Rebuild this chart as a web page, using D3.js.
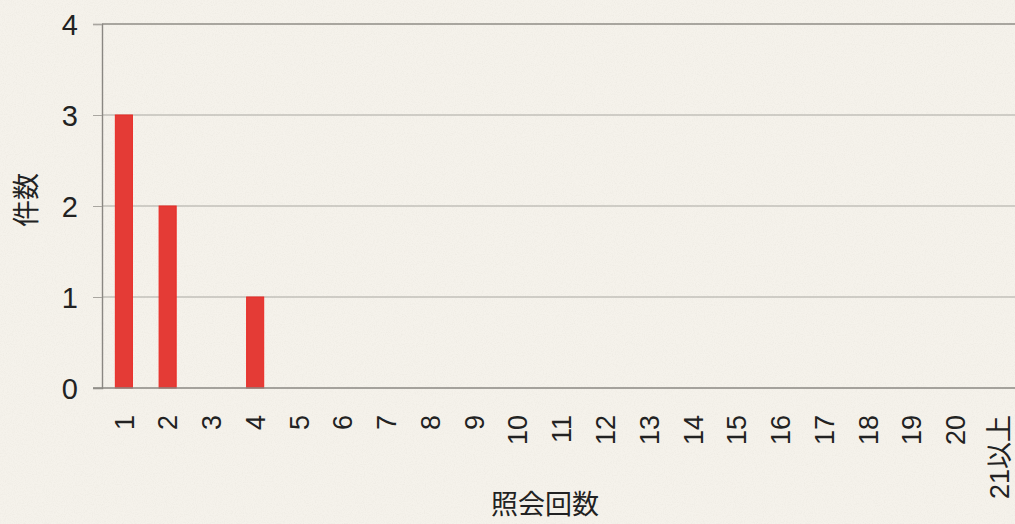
<!DOCTYPE html>
<html>
<head>
<meta charset="utf-8">
<script src="https://cdn.jsdelivr.net/npm/d3@7"></script>
<style>
  html, body { margin: 0; padding: 0; background: #f5f2eb; }
  svg { display: block; }
</style>
</head>
<body>
<svg id="chart" width="1015" height="524"></svg>
<script>
// Number of inquiries per case (照会回数) and how many cases (件数)
const categories = ["1","2","3","4","5","6","7","8","9","10","11","12","13","14","15","16","17","18","19","20","21以上"];
const counts = [3, 2, 0, 1, 0, 0, 0, 0, 0, 0, 0, 0, 0, 0, 0, 0, 0, 0, 0, 0, 0];
const yTicks = [0, 1, 2, 3, 4];

const W = 1015, H = 524;
const margin = { left: 102, top: 24, right: -6, bottom: 136 };

const svg = d3.select("#chart");

// paper-like grain
const defs = svg.append("defs");
const f = defs.append("filter").attr("id", "grain").attr("x", 0).attr("y", 0).attr("width", "100%").attr("height", "100%");
f.append("feTurbulence").attr("type", "fractalNoise").attr("baseFrequency", 0.9).attr("numOctaves", 2).attr("seed", 4).attr("result", "n");
f.append("feColorMatrix").attr("in", "n").attr("type", "matrix")
  .attr("values", "0 0 0 0 0.55  0 0 0 0 0.52  0 0 0 0 0.46  0 0 0 -1.6 0.95");
svg.append("rect").attr("width", W).attr("height", H).attr("fill", "#f5f2eb");
svg.append("rect").attr("width", W).attr("height", H).attr("filter", "url(#grain)").attr("opacity", 0.16);

const x = d3.scaleBand()
  .domain(categories)
  .range([margin.left, W - margin.right])
  .paddingInner(0.61)
  .paddingOuter(0.305);

const y = d3.scaleLinear()
  .domain([0, 4])
  .range([H - margin.bottom, margin.top]);

// horizontal gridlines
svg.append("g")
  .selectAll("line")
  .data(yTicks.filter(d => d > 0))
  .join("line")
  .attr("x1", margin.left).attr("x2", W)
  .attr("y1", d => y(d)).attr("y2", d => y(d))
  .attr("stroke", d => d === 4 ? "#8f8c86" : "#aaa7a1")
  .attr("stroke-width", d => d === 4 ? 1.6 : 1.1);

// bars
svg.append("g")
  .selectAll("rect")
  .data(categories.map((c, i) => ({ c, v: counts[i] })).filter(d => d.v > 0))
  .join("rect")
  .attr("x", d => x(d.c))
  .attr("y", d => y(d.v))
  .attr("width", x.bandwidth())
  .attr("height", d => y(0) - y(d.v))
  .attr("fill", "#e43b36")
  .attr("stroke", "#ea2a24")
  .attr("stroke-width", 1);

// y axis
const yAxis = svg.append("g")
  .attr("transform", `translate(${margin.left},0)`)
  .call(d3.axisLeft(y).tickValues(yTicks).tickFormat(d3.format("d")).tickSize(9).tickPadding(15));
yAxis.select(".domain").attr("stroke", "#8a8782").attr("stroke-width", 1.4);
yAxis.selectAll(".tick line").attr("stroke", "#a9a6a0");
yAxis.selectAll("text")
  .attr("font-family", "'Liberation Sans', Arial, sans-serif")
  .attr("font-size", 29)
  .attr("fill", "#222")
  .attr("dy", "0.36em");

// x axis
const xAxis = svg.append("g")
  .attr("transform", `translate(0,${y(0)})`)
  .call(d3.axisBottom(x).tickSize(0).tickPadding(0));
xAxis.select(".domain").remove();
svg.append("line")
  .attr("x1", margin.left - 9).attr("x2", W)
  .attr("y1", y(0)).attr("y2", y(0))
  .attr("stroke", "#8a8782").attr("stroke-width", 1.4);
xAxis.selectAll("text")
  .attr("font-family", "'Liberation Sans', 'Noto Sans CJK JP', sans-serif")
  .attr("font-size", 27)
  .attr("fill", "#222")
  .attr("text-anchor", "end")
  .attr("transform", "translate(0,27) rotate(-90)")
  .attr("x", 0).attr("y", 0)
  .attr("dy", "0.36em");

// axis titles
svg.append("text")
  .attr("transform", `translate(26,${(y(0) + y(4)) / 2 - 6}) rotate(-90)`)
  .attr("text-anchor", "middle")
  .attr("dy", "0.36em")
  .attr("font-family", "'Noto Sans CJK JP', sans-serif")
  .attr("font-size", 27)
  .attr("fill", "#222")
  .text("件数");

svg.append("text")
  .attr("x", 545).attr("y", 514)
  .attr("text-anchor", "middle")
  .attr("font-family", "'Noto Sans CJK JP', sans-serif")
  .attr("font-size", 27)
  .attr("fill", "#222")
  .text("照会回数");
</script>
</body>
</html>
